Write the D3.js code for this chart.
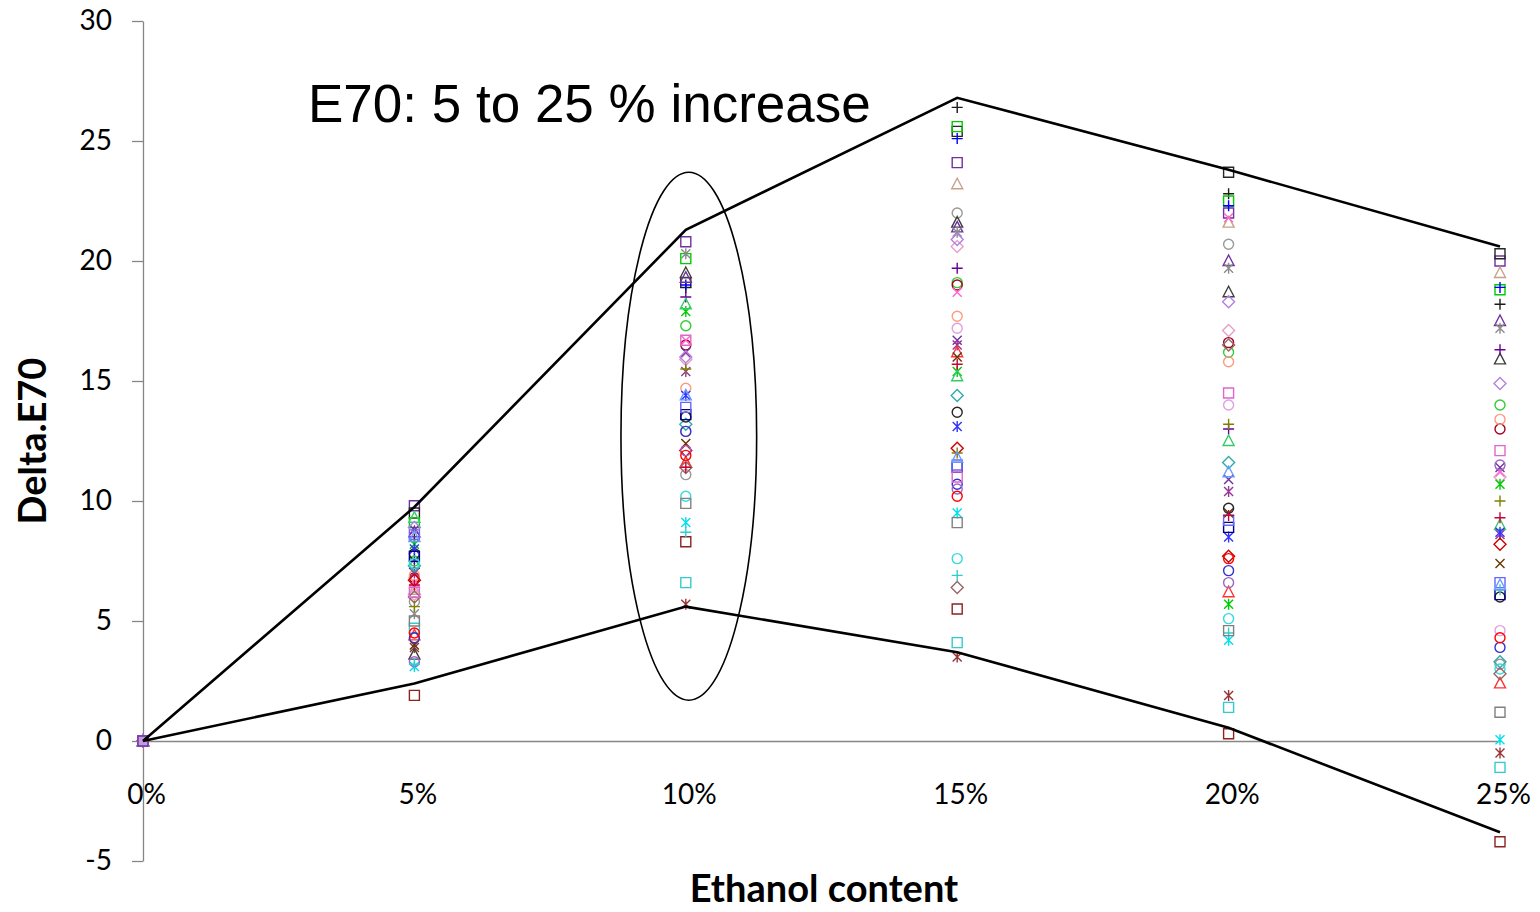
<!DOCTYPE html>
<html>
<head>
<meta charset="utf-8">
<script src="https://cdn.jsdelivr.net/npm/d3@7"></script>
<style>
  body { margin: 0; background: #fff; }
  svg text { font-family: Lato, "Open Sans", sans-serif; fill: #000; }
</style>
</head>
<body>
<svg id="chart"></svg>
<script>
// categories on the x axis
var categories = ["0%", "5%", "10%", "15%", "20%", "25%"];
var yTicks = [-5, 0, 5, 10, 15, 20, 25, 30];

// Delta.E70 per series (index = series), one array per ethanol level
var at0 = [0, 0, 0, 0, 0, 0, 0, 0, 0, 0, 0, 0, 0, 0, 0, 0, 0, 0, 0, 0, 0, 0, 0,
           0, 0, 0, 0, 0, 0, 0, 0, 0, 0, 0, 0, 0, 0, 0, 0, 0, 0, 0, 0, 0, 0];
var at5 = [1.9, 4.7, 3.9, 3.1, 9.8, 9.5, 8.4, 9.1, 7.6, 6.3, 5.8, 3.6, 8.7, 5.3, 6.1,
           7.2, 7.5, 6.8, 6.6, 6.9, 6.4, 8.8, 7.0, 4.4, 4.0, 8.2, 9.3, 7.3, 7.8, 8.0,
           6.7, 7.7, 8.6, 4.3, 3.3, 4.5, 7.4, 3.2, 6.0, 5.0, 6.5, 8.9, 6.2, 5.6, 8.5];
var at10 = [8.3, 6.6, 5.7, 9.1, 20.8, 19.1, 18.9, 20.1, 19.0, 11.6, 11.1, 19.5, 19.3, 20.3, 15.9,
            18.5, 17.3, 16.5, 16.7, 14.7, 12.9, 16.2, 15.4, 11.6, 12.4, 17.9, 18.2, 13.2, 13.5, 14.4,
            12.1, 13.6, 13.9, 12.9, 12.1, 11.9, 10.2, 8.7, 11.4, 9.9, 11.4, 16.0, 16.7, 15.5, 14.4];
var at15 = [5.5, 4.1, 3.5, 9.5, 24.1, 25.4, 26.4, 25.6, 25.1, 23.2, 22.0, 21.6, 21.4, 21.2, 20.6,
            19.7, 19.1, 19.0, 18.7, 17.7, 17.2, 16.7, 16.5, 16.2, 16.0, 15.4, 15.2, 14.4, 13.7, 13.1,
            12.2, 11.4, 11.5, 10.7, 10.5, 10.2, 7.6, 6.9, 6.4, 9.1, 15.7, 20.9, 11.0, 12.0, 11.8];
var at20 = [0.3, 1.4, 1.9, 4.2, 22.0, 23.7, 22.8, 22.5, 22.3, 21.6, 20.7, 18.7, 20.0, 19.7, 17.1,
            13.0, 16.2, 16.6, 21.8, 15.8, 14.0, 10.9, 10.4, 6.2, 9.5, 5.7, 12.5, 11.6, 9.7, 8.5,
            7.7, 8.9, 9.2, 7.1, 6.6, 7.6, 5.1, 4.5, 16.5, 4.6, 9.4, 18.3, 14.5, 13.2, 11.2];
var at25 = [-4.2, -1.1, -0.5, 0.05, 20.0, 20.3, 18.2, 18.8, 18.9, 19.5, 3.2, 15.9, 17.5, 17.2, 11.0,
            16.3, 14.0, 13.0, 11.2, 13.4, 4.6, 11.4, 8.6, 2.4, 7.4, 10.7, 9.0, 3.3, 6.0, 8.7,
            8.2, 6.1, 6.6, 3.9, 11.5, 4.3, 3.0, 6.3, 2.8, 1.2, 9.3, 14.9, 12.1, 10.0, 6.5];
var valuesByCategory = [at0, at5, at10, at15, at20, at25];

// hand-drawn annotation: envelope lines and the ellipse round 10%
var upperEnvelope = [0, 9.75, 21.3, 26.8, 23.8, 20.6];
var lowerEnvelope = [0, 2.4, 5.6, 3.7, 0.55, -3.8];
var ellipseCategory = "10%";
var ellipseLow = 1.7, ellipseHigh = 23.7;
var titleText = "E70: 5 to 25 % increase";

// marker styles per series (Excel-like)
var markerShapes = ["square", "square", "asterisk", "asterisk", "square", "square", "plus", "square", "plus", "triangle",
                    "circle", "triangle", "triangle", "asterisk", "diamond", "plus", "circle", "circle", "x", "circle",
                    "circle", "x", "asterisk", "triangle", "x", "asterisk", "triangle", "diamond", "circle", "asterisk",
                    "diamond", "square", "square", "circle", "circle", "circle", "circle", "plus", "diamond", "square",
                    "plus", "diamond", "square", "plus", "triangle"];
var markerColors = ["#8b2323", "#33cccc", "#993333", "#00e0ee", "#7030a0", "#262626", "#1a1a1a", "#00cc00", "#0000ff", "#c8a08c",
                    "#999999", "#404040", "#7030a0", "#8c8c8c", "#e6a0c8", "#660099", "#33cc33", "#a50021", "#ff66cc", "#ff9980",
                    "#e0a0e0", "#7030a0", "#993399", "#ff3333", "#663300", "#00cc00", "#33cc66", "#33aaaa", "#262626", "#3333ff",
                    "#cc0000", "#000080", "#6666ff", "#3333cc", "#9966cc", "#ff0000", "#33dddd", "#33cccc", "#996666", "#808080",
                    "#cc0033", "#b380e6", "#e066cc", "#808000", "#6699ff"];

var W = 1540, H = 912;
var svg = d3.select("#chart").attr("width", W).attr("height", H);

var x = d3.scalePoint().domain(categories).range([143, 1500]);
var y = d3.scaleLinear().domain([-5, 30]).range([861, 21]);

// y axis
var yAxisG = svg.append("g")
    .attr("transform", "translate(143,0)")
    .call(d3.axisLeft(y).tickValues(yTicks).tickFormat(function(d) { return String(d); })
        .tickSize(11).tickSizeOuter(0).tickPadding(20));
yAxisG.selectAll(".domain, .tick line").attr("stroke", "#868686").attr("stroke-width", 1.3);
yAxisG.selectAll(".tick text").style("font-size", "28px").attr("fill", "#000");

// x axis crossing at 0
var xAxisG = svg.append("g")
    .attr("transform", "translate(0," + y(0) + ")")
    .call(d3.axisBottom(x).tickSize(0).tickSizeOuter(0).tickPadding(43));
xAxisG.select(".domain").attr("stroke", "#868686").attr("stroke-width", 1.3);
xAxisG.selectAll(".tick text").style("font-size", "28px").attr("fill", "#000").attr("dx", 3);

// marker glyphs
function markerPath(shape) {
    switch (shape) {
        case "square": return "M-5,-5h10v10h-10z";
        case "diamond": return "M0,-6L6,0L0,6L-6,0Z";
        case "triangle": return "M0,-6L5.5,4.5L-5.5,4.5Z";
        case "x": return "M-4.5,-4.5L4.5,4.5M4.5,-4.5L-4.5,4.5";
        case "asterisk": return "M-4.5,-4.5L4.5,4.5M4.5,-4.5L-4.5,4.5M0,-5.5V5.5";
        case "plus": return "M-5.5,0H5.5M0,-5.5V5.5";
        default: return "M5,0A5,5 0 1,1 -5,0A5,5 0 1,1 5,0Z";
    }
}

var points = [];
categories.forEach(function(c, ci) {
    valuesByCategory[ci].forEach(function(v, si) {
        points.push({ cat: c, value: v, s: si });
    });
});

var markerG = svg.append("g");
markerG.selectAll("path").data(points).enter().append("path")
    .attr("transform", function(d) { return "translate(" + x(d.cat) + "," + y(d.value) + ")"; })
    .attr("d", function(d) { return markerPath(markerShapes[d.s]); })
    .attr("fill", "none")
    .attr("stroke", function(d) { return markerColors[d.s]; })
    .attr("stroke-width", 1.4);
// purple square sits on top at 0%
markerG.selectAll("path").filter(function(d) { return d.cat === "0%" && d.s === 4; })
    .attr("fill", "#c39be0").raise();

// envelope lines
var line = d3.line()
    .x(function(d, i) { return x(categories[i]); })
    .y(function(d) { return y(d); });
svg.append("path").attr("d", line(upperEnvelope))
    .attr("fill", "none").attr("stroke", "#000").attr("stroke-width", 2.6);
svg.append("path").attr("d", line(lowerEnvelope))
    .attr("fill", "none").attr("stroke", "#000").attr("stroke-width", 2.6);

// ellipse round the 10% column
svg.append("ellipse")
    .attr("cx", x(ellipseCategory) + 3)
    .attr("cy", (y(ellipseLow) + y(ellipseHigh)) / 2)
    .attr("rx", x.step() * 0.25)
    .attr("ry", (y(ellipseLow) - y(ellipseHigh)) / 2)
    .attr("fill", "none").attr("stroke", "#000").attr("stroke-width", 1.6);

// texts
svg.append("text")
    .attr("x", 308).attr("y", 122)
    .style("font-family", "'Liberation Sans', Arial, sans-serif")
    .style("font-size", "53px")
    .text(titleText);

svg.append("text")
    .attr("transform", "translate(46," + ((y(30) + y(-5)) / 2) + ") rotate(-90)")
    .attr("text-anchor", "middle")
    .style("font-size", "38px").style("font-weight", "bold")
    .text("Delta.E70");

svg.append("text")
    .attr("x", 824).attr("y", 902)
    .attr("text-anchor", "middle")
    .style("font-size", "38px").style("font-weight", "bold")
    .text("Ethanol content");
</script>
</body>
</html>
